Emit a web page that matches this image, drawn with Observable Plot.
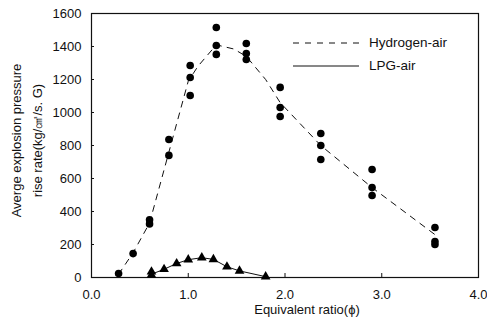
<!DOCTYPE html>
<html>
<head>
<meta charset="utf-8">
<script src="https://cdn.jsdelivr.net/npm/d3@7"></script>
<script src="https://cdn.jsdelivr.net/npm/@observablehq/plot@0.6"></script>
<style>
  html, body { margin: 0; padding: 0; background: #fff; }
  #wrap { position: relative; width: 487px; height: 332px; font-family: "Liberation Sans", Arial, sans-serif; }
  #legend { position: absolute; left: 293px; top: 31px; font-size: 13.5px; color: #111; }
  #legend .row { display: flex; align-items: center; height: 23px; }
  #legend svg { margin-right: 10px; }
</style>
</head>
<body>
<div id="wrap"></div>
<script>
// Hydrogen-air measured points (equivalent ratio, rate)
const h2X = [0.28, 0.43, 0.60, 0.60, 0.80, 0.80, 1.02, 1.02, 1.02, 1.29, 1.29, 1.29, 1.60, 1.60, 1.60, 1.95, 1.95, 1.95, 2.37, 2.37, 2.37, 2.90, 2.90, 2.90, 3.55, 3.55, 3.55];
const h2Y = [24, 145, 350, 325, 836, 740, 1285, 1212, 1103, 1515, 1406, 1352, 1418, 1358, 1321, 1152, 1030, 976, 873, 800, 715, 655, 545, 497, 303, 218, 200];
// Hydrogen-air trend line
const h2LineX = [0.28, 0.43, 0.60, 0.80, 1.00, 1.10, 1.29, 1.47, 1.60, 1.80, 1.95, 2.37, 2.90, 3.55];
const h2LineY = [20, 150, 330, 760, 1190, 1280, 1410, 1385, 1340, 1200, 1060, 800, 545, 260];
// LPG-air points
const lpgX = [0.62, 0.62, 0.75, 0.88, 1.00, 1.14, 1.26, 1.40, 1.53, 1.80];
const lpgY = [35, 15, 50, 85, 108, 120, 110, 65, 40, 5];
// LPG-air line
const lpgLineX = [0.62, 0.75, 0.88, 1.00, 1.14, 1.26, 1.40, 1.53, 1.80];
const lpgLineY = [20, 50, 85, 108, 120, 110, 65, 40, 5];
// ticks
const xTicks = [0, 1, 2, 3, 4];
const yTicks = [0, 200, 400, 600, 800, 1000, 1200, 1400, 1600];
const xLabel = "Equivalent ratio(\u03d5)";
const yLabel1 = "Averge explosion pressure";
const yLabel2 = "rise rate(kg/\u33a0/s. G)";

const h2Pts = h2X.map((x, i) => ({x, y: h2Y[i]}));
const h2Line = h2LineX.map((x, i) => ({x, y: h2LineY[i]}));
const lpgPts = lpgX.map((x, i) => ({x, y: lpgY[i]}));
const lpgLine = lpgLineX.map((x, i) => ({x, y: lpgLineY[i]}));

const chart = Plot.plot({
  width: 487,
  height: 332,
  marginLeft: 91,
  marginRight: 9,
  marginTop: 13,
  marginBottom: 55,
  style: { fontFamily: "Liberation Sans, Arial, sans-serif", fontSize: "13px", color: "#111", background: "#fff" },
  x: { domain: [0, 4], ticks: xTicks },
  y: { domain: [0, 1600], ticks: yTicks },
  marks: [
    Plot.frame({ stroke: "#111", strokeWidth: 1.2 }),
    Plot.axisX(xTicks, { tickSize: 0, tickPadding: 12, tickFormat: d3.format(".1f"), label: null, fontSize: 13 }),
    Plot.axisY(yTicks, { tickSize: 0, tickPadding: 10, tickFormat: d3.format("d"), label: null, fontSize: 13 }),
    Plot.axisX(xTicks.slice(1, 4), { tickSize: -4, tickFormat: () => "", label: null }),
    Plot.axisY(yTicks.slice(1, 8), { tickSize: -3, tickFormat: () => "", label: null }),
    Plot.line(h2Line, { x: "x", y: "y", stroke: "#111", strokeWidth: 1, strokeDasharray: "6,6" }),
    Plot.line(lpgLine, { x: "x", y: "y", stroke: "#111", strokeWidth: 1 }),
    Plot.dot(h2Pts, { x: "x", y: "y", r: 3.8, fill: "#000", stroke: "none" }),
    Plot.dot(lpgPts, { x: "x", y: "y", symbol: "triangle", r: 3.6, fill: "#000", stroke: "none" }),
    Plot.text([xLabel], { frameAnchor: "bottom", dx: 22, dy: 36, fontSize: 13 }),
    Plot.text([yLabel1], { frameAnchor: "left", textAnchor: "middle", dx: -75, dy: -5, rotate: -90, fontSize: 13 }),
    Plot.text([yLabel2], { frameAnchor: "left", textAnchor: "middle", dx: -54, dy: -5, rotate: -90, fontSize: 13 })
  ]
});

const wrap = document.getElementById("wrap");
wrap.appendChild(chart);

const legend = document.createElement("div");
legend.id = "legend";
legend.innerHTML =
  '<div class="row"><svg width="66" height="4"><line x1="0" y1="2" x2="66" y2="2" stroke="#111" stroke-width="1" stroke-dasharray="6,6"/></svg><span>Hydrogen-air</span></div>' +
  '<div class="row"><svg width="66" height="4"><line x1="0" y1="2" x2="66" y2="2" stroke="#111" stroke-width="1"/></svg><span>LPG-air</span></div>';
wrap.appendChild(legend);
</script>
</body>
</html>
